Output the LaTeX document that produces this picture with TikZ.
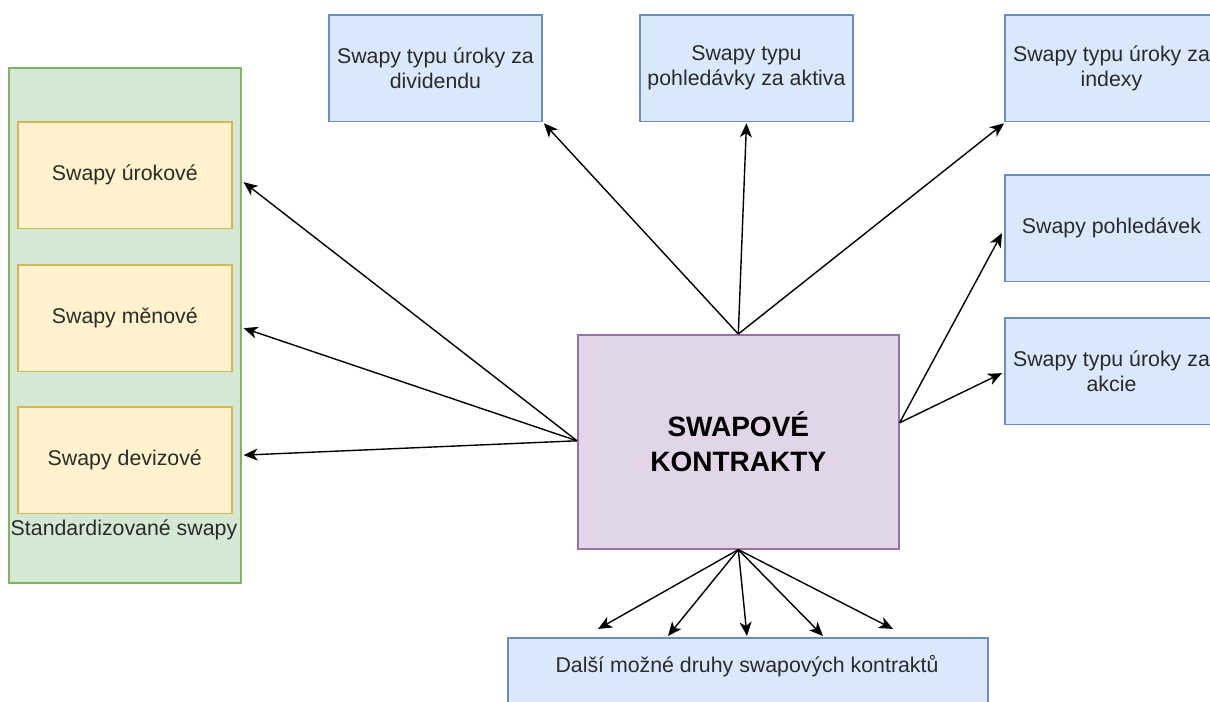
\documentclass[tikz,border=0pt]{standalone}
\usepackage{fontspec}
\setmainfont{Liberation Sans}
\usetikzlibrary{arrows.meta,calc}
\definecolor{gfill}{HTML}{D5E8D4}
\definecolor{gline}{HTML}{82B366}
\definecolor{yfill}{HTML}{FFF2CC}
\definecolor{yline}{HTML}{D6B656}
\definecolor{bfill}{HTML}{DAE8FC}
\definecolor{bline}{HTML}{6C8EBF}
\definecolor{pfill}{HTML}{E1D5E7}
\definecolor{pline}{HTML}{9673A6}
\definecolor{txt}{HTML}{2A2A2A}
\begin{document}
\begin{tikzpicture}[x=0.75pt,y=-0.75pt,
  basebox/.style={draw, line width=1.2pt, inner sep=0pt, anchor=north west, align=center,
    text=txt, font=\fontsize{16}{18.8}\selectfont},
  greenbox/.style={basebox, fill=gfill, draw=gline},
  yellowbox/.style={basebox, fill=yfill, draw=yline, minimum width=160.5pt, minimum height=80pt},
  bluebox/.style={basebox, fill=bfill, draw=bline, minimum width=160pt, minimum height=80pt},
  mainbox/.style={basebox, fill=pfill, draw=pline, minimum width=240.75pt, minimum height=160.5pt,
    font=\fontsize{21}{26}\selectfont\bfseries, text=black},
  conn/.style={line width=1.05pt, -{Stealth[length=10.5pt,width=9pt,inset=3pt]}}]
\useasboundingbox (0,0) rectangle (1210,702);
\clip (0,0) rectangle (1210,702);
\fill[white] (0,0) rectangle (1210,702);

% left container
\node[greenbox, minimum width=174pt, minimum height=386.25pt] (green) at (8,67) {};
\node[yellowbox] (y1) at (17,121) {Swapy úrokové};
\node[yellowbox] (y2) at (17,264) {Swapy měnové};
\node[yellowbox] (y3) at (17,406) {Swapy devizové};
\node[text=txt, font=\fontsize{16}{18.8}\selectfont, inner sep=0pt] (glabel) at (124,530) {Standardizované swapy};

% top boxes
\node[bluebox] (t1) at (328,14) {Swapy typu úroky za\\dividendu};
\node[bluebox] (t2) at (639,14) {Swapy typu\\pohledávky za aktiva};
\node[bluebox] (t3) at (1004,14) {Swapy typu úroky za\\indexy};

% right boxes
\node[bluebox] (r1) at (1004,174) {Swapy pohledávek};
\node[bluebox] (r2) at (1004,317) {Swapy typu úroky za\\akcie};

% main
\node[mainbox] (main) at (577,334) {SWAPOVÉ\\KONTRAKTY};

% bottom box
\node[bluebox, minimum width=360pt] (bot) at (507,637) {};
\node[text=txt, font=\fontsize{16}{18.8}\selectfont, inner sep=0pt] (botlabel) at (747,666) {Další možné druhy swapových kontraktů};

% connectors left
\draw[conn] ($(main.west)+(0,-1)$) -- ($(green.east |- y1.east)+(2,7)$);
\draw[conn] ($(main.west)+(0,-1)$) -- ($(green.east |- y2.east)+(2,10)$);
\draw[conn] ($(main.west)+(0,-1)$) -- ($(green.east |- y3.east)+(2,-5)$);

% connectors top
\draw[conn] (main.north) -- ($(t1.south east)+(1,1)$);
\draw[conn] (main.north) -- ($(t2.south)+(0,1)$);
\draw[conn] (main.north) -- ($(t3.south west)+(0,1)$);

% connectors right
\draw[conn] ($(main.east)+(0,-19)$) -- ($(r1.west)+(-2,5)$);
\draw[conn] ($(main.east)+(0,-19)$) -- ($(r2.west)+(-2,2)$);

% connectors bottom
\draw[conn] (main.south) -- ($(bot.north west)+(91,-8)$);
\draw[conn] (main.south) -- ($(bot.north west)+(161,-1)$);
\draw[conn] (main.south) -- ($(bot.north west)+(240,-1)$);
\draw[conn] (main.south) -- ($(bot.north west)+(316,-1)$);
\draw[conn] (main.south) -- ($(bot.north west)+(386,-8)$);
\end{tikzpicture}
\end{document}
